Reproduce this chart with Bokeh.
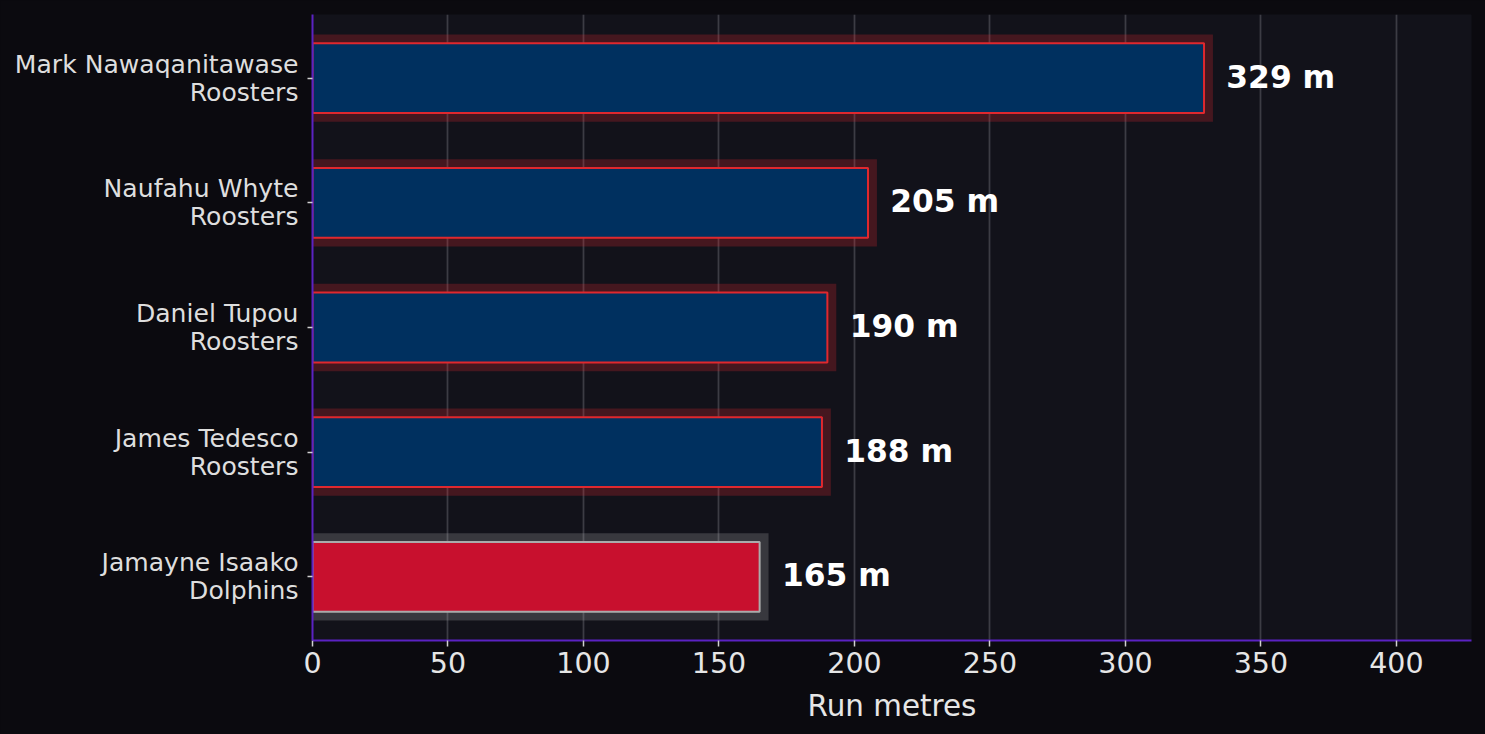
from bokeh.plotting import figure
from bokeh.models import ColumnDataSource, Range1d, FixedTicker, SingleIntervalTicker
from bokeh.core.properties import value
from bokeh.embed import file_html
from bokeh.resources import INLINE

# ---- data (top to bottom) ----
players = ["Mark Nawaqanitawase", "Naufahu Whyte", "Daniel Tupou", "James Tedesco", "Jamayne Isaako"]
teams = ["Roosters", "Roosters", "Roosters", "Roosters", "Dolphins"]
run_metres = [329, 205, 190, 188, 165]

team_fill = {"Roosters": "#00305f", "Dolphins": "#c8102e"}
team_edge = {"Roosters": "#e0282e", "Dolphins": "#ababab"}

n = len(players)
ypos = [n - 1 - i for i in range(n)]
vmax = max(run_metres)

src = ColumnDataSource(dict(
    y=ypos,
    v=run_metres,
    glow=[v + vmax * 0.01 for v in run_metres],
    lab_x=[v + vmax * 0.025 for v in run_metres],
    lab=[f"{v} m" for v in run_metres],
    fill=[team_fill[t] for t in teams],
    edge=[team_edge[t] for t in teams],
))

p = figure(width=1485, height=734, output_backend="svg", toolbar_location=None,
           x_range=Range1d(0, vmax * 1.3), y_range=Range1d(-0.51, n - 1 + 0.51),
           min_border_left=312, min_border_right=14, min_border_top=14, min_border_bottom=94)

p.background_fill_color = "#12121a"
p.border_fill_color = "#0b0a0f"
p.outline_line_color = None

# glow behind bars
p.hbar(y="y", left=0, right="glow", height=0.7, source=src,
       fill_color="edge", fill_alpha=0.25, line_color=None)
# bars
p.hbar(y="y", left=0, right="v", height=0.56, source=src,
       fill_color="fill", line_color="edge", line_width=2)
# value labels
p.text(x="lab_x", y="y", text="lab", source=src, text_color="#ffffff",
       text_font_size="31.3px", text_font_style="bold", text_baseline="middle",
       text_align="left", text_font=value("DejaVu Sans"), y_offset=-1.5)

# axes
xa = p.xaxis[0]
xa.ticker = SingleIntervalTicker(interval=50)
xa.axis_label = "Run metres"
xa.axis_label_text_font = "DejaVu Sans"
xa.axis_label_text_font_size = "29.4px"
xa.axis_label_text_font_style = "normal"
xa.axis_label_text_color = "#e6e6e6"
xa.axis_label_standoff = 13
xa.major_label_text_font = "DejaVu Sans"
xa.major_label_text_font_size = "28.5px"
xa.major_label_text_color = "#e6e6e6"
xa.major_label_standoff = 5
xa.axis_line_color = "#5b22c2"
xa.axis_line_width = 2
xa.major_tick_line_color = "#d0d0d0"
xa.major_tick_line_width = 1.5
xa.major_tick_out = 6
xa.major_tick_in = 0
xa.minor_tick_line_color = None

ya = p.yaxis[0]
ya.ticker = FixedTicker(ticks=ypos)
ya.major_label_overrides = {y: f"{pl}\n{t}" for y, pl, t in zip(ypos, players, teams)}
ya.major_label_text_font = "DejaVu Sans"
ya.major_label_text_font_size = "25.1px"
ya.major_label_text_color = "#dedede"
ya.major_label_text_line_height = 0.96
ya.major_label_standoff = 9
ya.axis_line_color = "#5b22c2"
ya.axis_line_width = 2
ya.major_tick_line_color = "#d0d0d0"
ya.major_tick_line_width = 1.5
ya.major_tick_out = 5
ya.major_tick_in = 0
ya.minor_tick_line_color = None

p.xgrid.grid_line_color = "#3c3c44"
p.xgrid.grid_line_width = 1.8
p.ygrid.grid_line_color = None

html = file_html(p, INLINE)
html = html.replace("</head>", "<style>html, body { background: #0b0a0f; }</style></head>", 1)
open("out.html", "w").write(html)
